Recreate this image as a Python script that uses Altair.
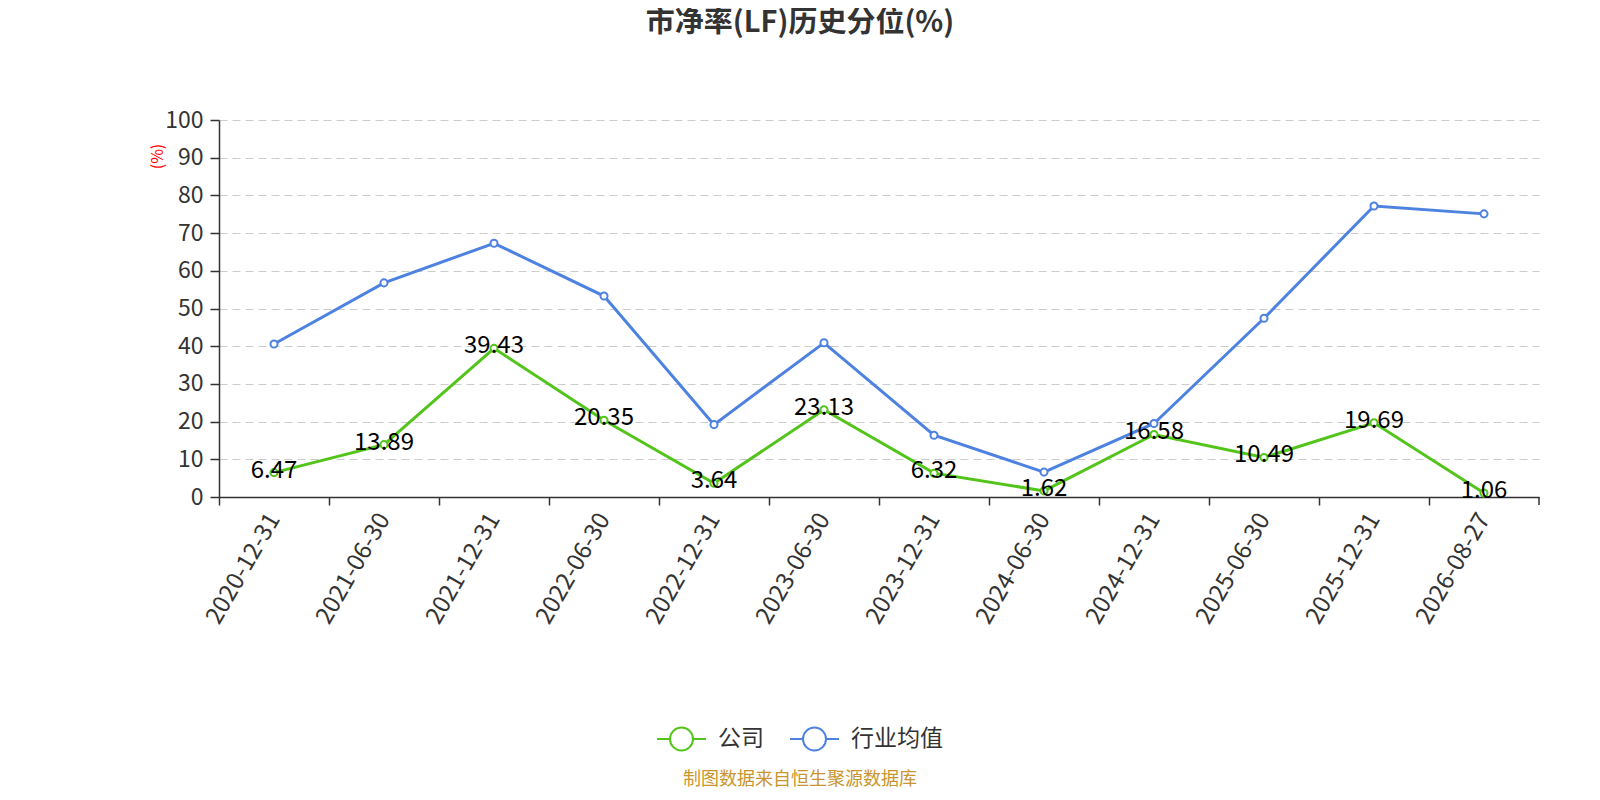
import altair as alt
import pandas as pd

dates = ["2020-12-31", "2021-06-30", "2021-12-31", "2022-06-30", "2022-12-31", "2023-06-30",
         "2023-12-31", "2024-06-30", "2024-12-31", "2025-06-30", "2025-12-31", "2026-08-27"]
company = [6.47, 13.89, 39.43, 20.35, 3.64, 23.13, 6.32, 1.62, 16.58, 10.49, 19.69, 1.06]
industry = [40.6, 56.8, 67.3, 53.3, 19.2, 40.9, 16.4, 6.6, 19.5, 47.4, 77.2, 75.1]
series_names = ["公司", "行业均值"]
colors = ["#52C41A", "#4E82E0"]
title_text = "市净率(LF)历史分位(%)"
footer_text = "制图数据来自恒生聚源数据库"

rows = []
for d, c, i in zip(dates, company, industry):
    rows.append({"date": d, "series": series_names[0], "value": c, "label": f"{c:.2f}"})
    rows.append({"date": d, "series": series_names[1], "value": i, "label": ""})
df = pd.DataFrame(rows)

FONT = "Noto Sans CJK SC"
W, H = 1320, 377
step = W / len(dates)

x_enc = alt.X("date:N", sort=dates,
              scale=alt.Scale(type="point", padding=0.5),
              axis=alt.Axis(title=None, labelAngle=-60, labelAlign="right", labelBaseline="middle",
                            labelFontSize=24, labelColor="#333", labelFont=FONT, labelPadding=10,
                            tickOffset=-step / 2, labelOffset=step / 2,
                            domainColor="#333", domainWidth=1.5, tickColor="#333", tickSize=8,
                            tickWidth=1.5, grid=False))
y_enc = alt.Y("value:Q", scale=alt.Scale(domain=[0, 100], nice=False),
              axis=alt.Axis(title="(%)", titleColor="red", titleFontSize=16, titleFont=FONT,
                            titleFontWeight="normal", titleX=-62, titleY=36, titleAngle=-90,
                            titleAlign="center", titleBaseline="middle",
                            values=list(range(0, 101, 10)), labelFontSize=23, labelColor="#333",
                            labelFont=FONT, labelPadding=7, domainColor="#333", domainWidth=1.5,
                            tickColor="#333", tickSize=9, tickWidth=1.5, grid=True, gridColor="#cccccc",
                            gridDash=[8, 5], gridWidth=1.2))

color_enc = alt.Color("series:N", sort=series_names,
                      scale=alt.Scale(domain=series_names, range=colors),
                      legend=alt.Legend(title=None, orient="none", direction="horizontal",
                                        legendX=437, legendY=593, padding=0,
                                        symbolType="M-1,0L-0.47,0M0.47,0L1,0M0.47,0A0.47,0.47,0,1,1,-0.47,0A0.47,0.47,0,1,1,0.47,0",
                                        symbolSize=2400, symbolStrokeWidth=2,
                                        labelFontSize=23, labelFont=FONT, labelColor="#333",
                                        labelOffset=11, columnPadding=22))

base = alt.Chart(df)
lines = base.mark_line(strokeWidth=3).encode(x=x_enc, y=y_enc, color=color_enc)
points = base.mark_point(filled=True, fill="white", size=50, strokeWidth=2, opacity=1).encode(
    x=x_enc, y=y_enc, stroke=alt.Stroke("series:N", scale=alt.Scale(domain=series_names, range=colors), legend=None))
labels = base.transform_filter(alt.datum.series == series_names[0]).mark_text(
    fontSize=24, font=FONT, color="black", baseline="middle", dy=-2).encode(
    x=x_enc, y=y_enc, text="label:N")
end_tick = alt.Chart(pd.DataFrame({"t": [0]})).mark_rule(color="#333", strokeWidth=1.5).encode(
    x=alt.value(W), y=alt.value(H), y2=alt.value(H + 8))
title = alt.Chart(pd.DataFrame({"t": [title_text]})).mark_text(
    fontSize=29, font=FONT, fontWeight="bold", color="#333", baseline="middle", align="center").encode(
    x=alt.value(581), y=alt.value(-97), text="t:N")
footer = alt.Chart(pd.DataFrame({"t": [footer_text]})).mark_text(
    fontSize=18, font=FONT, color="#C9952E", baseline="bottom", align="center").encode(
    x=alt.value(581), y=alt.value(669), text="t:N")

chart = alt.layer(lines, points, labels, end_tick, title, footer).properties(
    width=W, height=H,
    autosize=alt.AutoSizeParams(type="none"),
    padding={"left": 211, "top": 112, "right": 53, "bottom": 295},
).configure_view(stroke=None)

chart.save("out.html", embed_options={"renderer": "svg", "actions": False})
